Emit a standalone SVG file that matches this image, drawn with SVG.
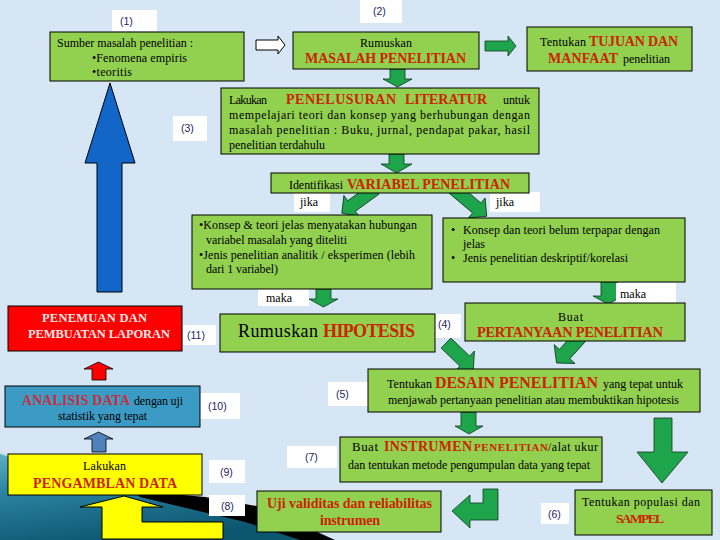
<svg xmlns="http://www.w3.org/2000/svg" width="720" height="540" viewBox="0 0 720 540">
<style>
.t{font-family:"Liberation Serif","Times New Roman",serif;font-size:12px;fill:#000}
.r{font-family:"Liberation Serif","Times New Roman",serif;font-weight:bold;fill:#cc2200}
.n{font-family:"Liberation Sans",Arial,sans-serif;font-size:10.5px;fill:#1c1c66}
.g{fill:#92d050;stroke:#000;stroke-width:1}
.lb{fill:#fff}
.ga{fill:#1ea54c;stroke:#10381c;stroke-width:0.8}
</style>
<defs>
<linearGradient id="teal" x1="0" y1="0" x2="0.4" y2="1">
<stop offset="0" stop-color="#5fb0c6"/>
<stop offset="0.4" stop-color="#2a83a0"/>
<stop offset="1" stop-color="#0d5670"/>
</linearGradient>
</defs>
<rect width="720" height="540" fill="#d6e6f5"/>
<!-- swoosh -->
<path d="M0,453 C50,468 100,484 140,492 L200,500 L320,540 L0,540 Z" fill="url(#teal)"/>
<path d="M0,453 C50,468 100,484 140,492" fill="none" stroke="#b8e0ea" stroke-width="2"/>
<path d="M130,490 L205,497 L262,507 L335,540 L300,540 L245,522 L140,497 Z" fill="#000"/>

<g id="connectors">
<polygon class="ga" points="485,41 508,41 508,36 516,46 508,56 508,51 485,51"/>
<polygon fill="#fff" stroke="#000" stroke-width="1" points="256,40 278,40 278,36 285,45 278,54 278,50 256,50"/>
<polygon class="ga" points="390,69 405,69 405,79 412,79 397.5,87 383,79 390,79"/>
<polygon class="ga" points="389,154 404,154 404,164 412,164 396.5,173 381,164 389,164"/>
<polygon class="ga" points="-6.5,0 6.5,0 6.5,29 13,29 0,41 -13,29 -6.5,29" transform="translate(375,189) rotate(54)"/>
<polygon class="ga" points="-6.5,0 6.5,0 6.5,31 13,31 0,44 -13,31 -6.5,31" transform="translate(453,188) rotate(-50)"/>
<polygon class="ga" points="316,289 331,289 331,299 338,299 323.5,307 309,299 316,299"/>
<polygon class="ga" points="601,282 617,282 617,296 623,296 608,304 593,296 601,296"/>
<polygon class="ga" points="-7,0 7,0 7,26 14,26 0,38 -14,26 -7,26" transform="translate(446,343) rotate(-46)"/>
<polygon class="ga" points="-7,0 7,0 7,23 14,23 0,35 -14,23 -7,23" transform="translate(580,337) rotate(42)"/>
<polygon class="ga" points="461,412 476,412 476,426 483,426 469,434 455,426 461,426"/>
<polygon class="ga" points="654,418 672,418 672,452 688,452 662,483 637,452 654,452"/>
<polygon class="ga" points="483,489 498,489 498,520 470,520 470,528 452,511 470,495 470,503 483,503"/>
<polygon fill="#1166c8" stroke="#000" stroke-width="1" points="97,292 122,292 122,163 135,163 110,83 85,163 97,163"/>
<polygon fill="#ff0000" stroke="#000" stroke-width="0.8" points="92,380 106,380 106,369 113,369 98.5,362 84,369 92,369"/>
<polygon fill="#4f81bd" stroke="#000" stroke-width="0.8" points="92,452 106,452 106,439 113,439 98.5,432 84,439 92,439"/>
<polygon fill="#ffff00" stroke="#000" stroke-width="1" points="102,539 223,539 223,522 142,522 142,507 163,507 124,496 80,507 102,507"/>
</g>

<g id="labels">
<rect class="lb" x="112" y="10" width="45" height="21"/><text class="n" x="120" y="25">(1)</text>
<rect class="lb" x="360" y="0" width="42" height="23"/><text class="n" x="373" y="15">(2)</text>
<rect class="lb" x="173" y="116" width="34" height="25"/><text class="n" x="181" y="132">(3)</text>
<rect class="lb" x="435" y="314" width="26" height="24"/><text class="n" x="438" y="328">(4)</text>
<rect class="lb" x="328" y="382" width="40" height="24"/><text class="n" x="336" y="398">(5)</text>
<rect class="lb" x="541" y="503" width="28" height="21"/><text class="n" x="548" y="518">(6)</text>
<rect class="lb" x="287" y="446" width="50" height="22"/><text class="n" x="305" y="461">(7)</text>
<rect class="lb" x="209" y="495" width="36" height="21"/><text class="n" x="221" y="510">(8)</text>
<rect class="lb" x="209" y="460" width="36" height="23"/><text class="n" x="220" y="476">(9)</text>
<rect class="lb" x="200" y="393" width="40" height="26"/><text class="n" x="208" y="410">(10)</text>
<rect class="lb" x="183" y="325" width="33" height="20"/><text class="n" x="187" y="339">(11)</text>
<rect class="lb" x="294" y="192" width="36" height="20"/><text class="t" x="300" y="206">jika</text>
<rect class="lb" x="490" y="192" width="50" height="20"/><text class="t" x="496" y="206">jika</text>
<rect class="lb" x="258" y="288" width="51" height="18"/><text class="t" x="266" y="302">maka</text>
<rect class="lb" x="616" y="283" width="60" height="20"/><text class="t" x="620" y="298">maka</text>
</g>

<g id="sumber">
<rect class="g" x="50" y="32" width="194" height="49"/>
<text class="t" x="57" y="47" textLength="136">Sumber masalah penelitian :</text>
<text class="t" x="92" y="62" textLength="95">•Fenomena empiris</text>
<text class="t" x="92" y="76" textLength="40">•teoritis</text>
</g>

<g id="masalah">
<rect class="g" x="293" y="32" width="186" height="37"/>
<text class="t" x="360" y="47" textLength="52">Rumuskan</text>
<text class="r" x="305" y="63" font-size="14" textLength="161">MASALAH PENELITIAN</text>
</g>

<g id="tujuan">
<rect class="g" x="527" y="27" width="165" height="44"/>
<text class="t" x="540" y="46" textLength="46">Tentukan</text>
<text class="r" x="589" y="46" font-size="14" textLength="89">TUJUAN DAN</text>
<text class="r" x="548" y="63" font-size="14" textLength="70">MANFAAT</text>
<text class="t" x="623" y="63" textLength="47">penelitian</text>
</g>

<g id="literatur">
<rect class="g" x="221" y="88" width="318" height="66"/>
<text class="t" x="229" y="104" textLength="38">Lakukan</text>
<text class="r" x="286" y="104" font-size="14" textLength="110">PENELUSURAN</text>
<text class="r" x="405" y="104" font-size="14" textLength="82">LITERATUR</text>
<text class="t" x="503" y="104" textLength="27">untuk</text>
<text class="t" x="229" y="119" textLength="301">mempelajari teori dan konsep yang berhubungan dengan</text>
<text class="t" x="229" y="134" textLength="301">masalah penelitian : Buku, jurnal, pendapat pakar, hasil</text>
<text class="t" x="229" y="149" textLength="96">penelitian terdahulu</text>
</g>

<g id="variabel">
<rect class="g" x="271" y="173" width="258" height="20"/>
<text class="t" x="289" y="189" textLength="54">Identifikasi</text>
<text class="r" x="347" y="189" font-size="14" textLength="163">VARIABEL PENELITIAN</text>
</g>

<g id="analitik">
<rect class="g" x="192" y="215" width="240" height="74"/>
<text class="t" x="199" y="229" textLength="218">•Konsep &amp; teori jelas menyatakan hubungan</text>
<text class="t" x="206" y="244" textLength="141">variabel masalah yang diteliti</text>
<text class="t" x="199" y="259" textLength="216">•Jenis penelitian analitik / eksperimen (lebih</text>
<text class="t" x="206" y="273" textLength="72">dari 1 variabel)</text>
</g>

<g id="deskriptif">
<rect class="g" x="443" y="218" width="242" height="64"/>
<text class="t" x="451" y="234">•</text>
<text class="t" x="463" y="234" textLength="197">Konsep dan teori belum terpapar dengan</text>
<text class="t" x="463" y="248" textLength="22">jelas</text>
<text class="t" x="451" y="262">•</text>
<text class="t" x="463" y="262" textLength="165">Jenis penelitian deskriptif/korelasi</text>
</g>

<g id="laporan">
<rect x="8" y="306" width="174" height="45" fill="#ff0000" stroke="#000" stroke-width="1"/>
<text class="r" x="42" y="322" font-size="12.5" style="fill:#ffe8e8" textLength="105">PENEMUAN DAN</text>
<text class="r" x="28" y="338" font-size="12.5" style="fill:#ffe8e8" textLength="142">PEMBUATAN LAPORAN</text>
</g>

<g id="hipotesis">
<rect class="g" x="220" y="314" width="215" height="38"/>
<text class="t" x="238" y="337" style="font-size:18px" textLength="80">Rumuskan</text>
<text class="r" x="323" y="337" font-size="18" textLength="92">HIPOTESIS</text>
</g>

<g id="pertanyaan">
<rect class="g" x="465" y="303" width="220" height="38"/>
<text class="t" x="558" y="321" textLength="25">Buat</text>
<text class="r" x="477" y="337" font-size="14.5" textLength="186">PERTANYAAN PENELITIAN</text>
</g>

<g id="desain">
<rect class="g" x="368" y="369" width="332" height="43"/>
<text class="t" x="387" y="388" textLength="45">Tentukan</text>
<text class="r" x="435" y="388" font-size="16" textLength="163">DESAIN PENELITIAN</text>
<text class="t" x="603" y="388" textLength="80">yang tepat untuk</text>
<text class="t" x="388" y="404" textLength="291">menjawab pertanyaan penelitian atau membuktikan hipotesis</text>
</g>

<g id="analisis">
<rect x="5" y="386" width="195" height="41" fill="#3b9bc4" stroke="#000" stroke-width="1"/>
<text class="r" x="22" y="405" font-size="14" style="fill:#c8303f" textLength="108">ANALISIS DATA</text>
<text class="t" x="134" y="405" textLength="49">dengan uji</text>
<text class="t" x="58" y="420" textLength="89">statistik yang tepat</text>
</g>

<g id="pengambilan">
<rect x="8" y="454" width="194" height="41" fill="#ffff00" stroke="#000" stroke-width="1"/>
<text class="t" x="83" y="470" textLength="43">Lakukan</text>
<text class="r" x="33" y="488" font-size="14" textLength="144">PENGAMBLAN DATA</text>
</g>

<g id="instrumen">
<rect class="g" x="340" y="437" width="262" height="45"/>
<text class="t" x="352" y="451" style="font-size:13px" textLength="26">Buat</text>
<text class="r" x="384" y="451" font-size="14" textLength="88">INSTRUMEN</text>
<text class="r" x="474" y="451" font-size="11" textLength="74">PENELITIAN</text>
<text class="t" x="548" y="451" textLength="50">/alat ukur</text>
<text class="t" x="348" y="469" textLength="242">dan tentukan metode pengumpulan data yang tepat</text>
</g>

<g id="uji">
<rect class="g" x="257" y="491" width="184" height="41"/>
<text class="r" x="267" y="508" font-size="14" textLength="165">Uji validitas dan reliabilitas</text>
<text class="r" x="320" y="525" font-size="14" textLength="60">instrumen</text>
</g>

<g id="sampel">
<rect class="g" x="575" y="490" width="137" height="45"/>
<text class="t" x="582" y="506" textLength="118">Tentukan populasi dan</text>
<text class="r" x="616" y="523" font-size="13.5" textLength="48">SAMPEL</text>
</g>
</svg>
